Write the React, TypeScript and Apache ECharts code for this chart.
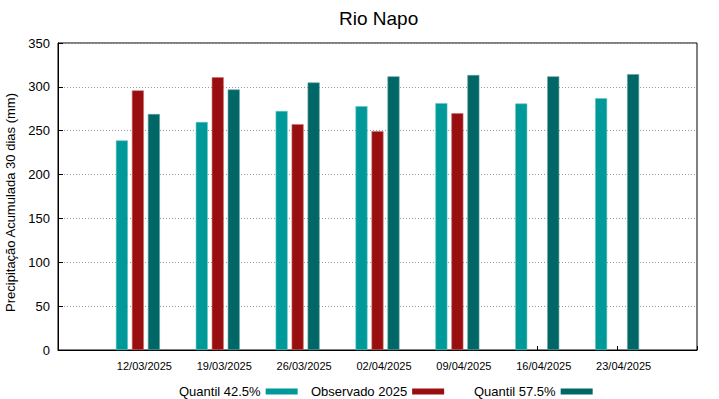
import React, { useEffect, useRef } from "react";
import * as echarts from "echarts";

const dates = ["12/03/2025", "19/03/2025", "26/03/2025", "02/04/2025", "09/04/2025", "16/04/2025", "23/04/2025"];
const quantil425 = [239, 260, 272.5, 278, 281.5, 281, 287];
const observado2025: (number | null)[] = [296, 311, 257.5, 249.5, 270, null, null];
const quantil575 = [269, 297, 305, 312, 313.5, 312, 314.5];
const yTicks = [0, 50, 100, 150, 200, 250, 300, 350];

const FONT = "Liberation Sans, Arial, sans-serif";

const toPairs = (arr: (number | null)[]) =>
  arr.map((v, i) => (v == null ? null : [i + 1, v])).filter((p) => p !== null);

export default function App() {
  const ref = useRef<HTMLDivElement>(null);
  useEffect(() => {
    if (!ref.current) return;
    const chart = echarts.init(ref.current, null, { renderer: "svg" });
    const legendCommon = {
      align: "right" as const,
      itemWidth: 32,
      itemHeight: 6,
      icon: "rect",
      top: 380,
      itemStyle: { borderWidth: 0 },
      textStyle: { fontFamily: FONT, fontSize: 13, color: "#000" },
    };
    chart.setOption({
      animation: false,
      backgroundColor: "#fff",
      title: {
        text: "Rio Napo",
        left: 334,
        top: 4,
        textStyle: { fontFamily: FONT, fontSize: 19, fontWeight: "normal", color: "#000" },
      },
      grid: {
        left: 58,
        right: 22,
        top: 43,
        bottom: 49,
        outerBoundsMode: "none",
        containLabel: false,
        show: true,
        borderColor: "#000",
        borderWidth: 1,
        backgroundColor: "transparent",
      },
      legend: [
        { ...legendCommon, left: 174, data: ["Quantil 42.5%"] },
        { ...legendCommon, left: 306, data: ["Observado 2025"] },
        { ...legendCommon, left: 469, data: ["Quantil 57.5%"] },
      ],
      xAxis: {
        type: "value",
        min: 0,
        max: 8,
        interval: 1,
        axisLine: { show: true, lineStyle: { color: "#000" } },
        axisTick: { show: true, inside: true, length: 4, lineStyle: { color: "#000" } },
        splitLine: { show: false },
        axisLabel: {
          formatter: (v: number) => dates[v - 1] || "",
          fontFamily: FONT,
          fontSize: 11,
          color: "#000",
          margin: 10,
          padding: [0, 0, 0, 13],
        },
      },
      yAxis: {
        type: "value",
        min: 0,
        max: 350,
        interval: 50,
        name: "Precipitação Acumulada 30 dias (mm)",
        nameLocation: "middle",
        nameGap: 32,
        nameTextStyle: { fontFamily: FONT, fontSize: 13, color: "#000", padding: [0, 12, 0, 0] },
        axisLine: { show: true, lineStyle: { color: "#000" } },
        axisTick: { show: true, inside: true, length: 5, lineStyle: { color: "#000" } },
        splitLine: { show: true, lineStyle: { color: "#9a9a9a", type: [1, 2], width: 1 } },
        axisLabel: {
          formatter: (v: number) => (yTicks.includes(v) ? String(v) : ""),
          fontFamily: FONT,
          fontSize: 13,
          color: "#000",
          margin: 8,
        },
      },
      series: [
        {
          name: "Quantil 42.5%",
          type: "bar",
          data: toPairs(quantil425),
          barWidth: 12,
          barGap: "33.3%",
          itemStyle: { color: "#009999", borderColor: "#66c2c2", borderWidth: 0.6 },
        },
        {
          name: "Observado 2025",
          type: "bar",
          data: toPairs(observado2025),
          barWidth: 12,
          barGap: "33.3%",
          itemStyle: { color: "#990e0e", borderColor: "#c87070", borderWidth: 0.6 },
        },
        {
          name: "Quantil 57.5%",
          type: "bar",
          data: toPairs(quantil575),
          barWidth: 12,
          barGap: "33.3%",
          itemStyle: { color: "#006666", borderColor: "#5fa3a3", borderWidth: 0.6 },
        },
      ],
    });
    return () => chart.dispose();
  }, []);
  return <div ref={ref} style={{ width: 719, height: 399, position: "absolute", left: 0, top: 0 }} />;
}
